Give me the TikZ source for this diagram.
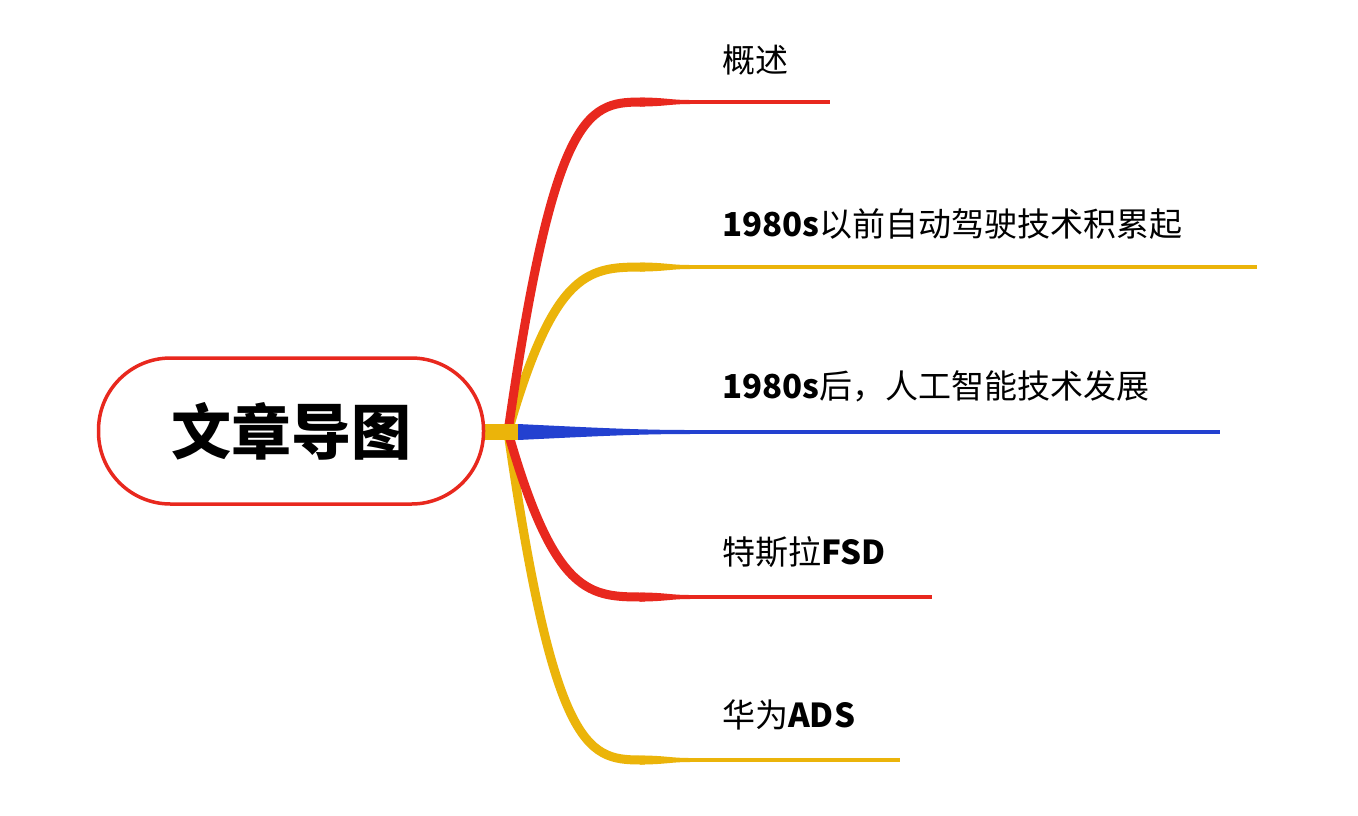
\documentclass[tikz,border=0pt]{standalone}
\usepackage{fontspec}
\setmainfont{Noto Sans CJK SC}
\definecolor{cred}{HTML}{E8281E}
\definecolor{cyel}{HTML}{EBB40A}
\definecolor{cblu}{HTML}{2341D0}
\tikzset{lbl/.style={anchor=base west,font=\fontsize{33}{33}\selectfont,inner sep=0pt}}
\newcommand\branch[3]{%
 \draw[#1,line width=9pt] (508,432) .. controls (555,#2) and (590,#2) .. (645,#2);
 \fill[#1] (640,#2-4.5) .. controls (665,#2-4.5) and (670,#2-2) .. (690,#2-2) -- (690,#2+2) .. controls (670,#2+2) and (665,#2+4.5) .. (640,#2+4.5) -- cycle;
 \draw[#1,line width=4pt] (689,#2) -- (#3,#2);
}
\begin{document}
\begin{tikzpicture}[x=1pt,y=-1pt]
\useasboundingbox[fill=white] (0,0) rectangle (1358,815);
\branch{cyel}{760}{900}
\branch{cred}{597}{932}
\branch{cyel}{267}{1257}
\branch{cred}{102}{830}
\fill[cyel] (485,424) rectangle (520,440);
\fill[cblu] (518,424) .. controls (600,428) and (640,430) .. (690,430) -- (690,434) .. controls (640,434) and (600,436) .. (518,440) -- cycle;
\draw[cblu,line width=4pt] (689,432) -- (1220,432);
\node[draw=cred,line width=3.5pt,fill=white,rounded corners=72pt,minimum width=385pt,minimum height=146pt,font=\fontsize{60}{60}\selectfont\bfseries] (c) at (291,431) {文章导图};
\node[lbl] at (722,72) {概述};
\node[lbl] at (722,236) {\textbf{1980s}以前自动驾驶技术积累起};
\node[lbl] at (722,398) {\textbf{1980s}后，人工智能技术发展};
\node[lbl] at (722,564) {特斯拉\textbf{FSD}};
\node[lbl] at (722,727) {华为\textbf{ADS}};
\end{tikzpicture}
\end{document}
